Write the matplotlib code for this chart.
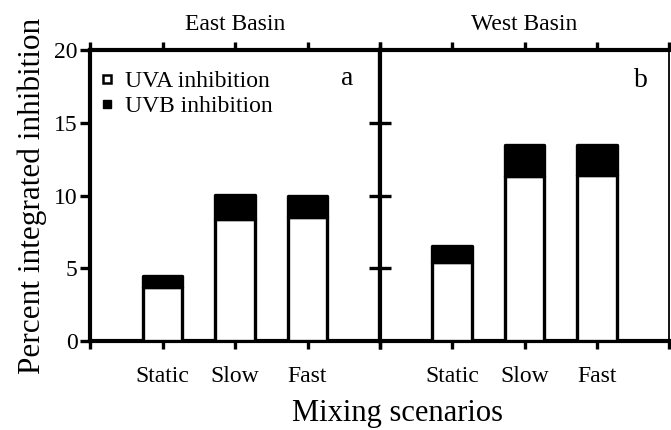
import matplotlib
matplotlib.use("Agg")
from matplotlib import pyplot as plt
from matplotlib.lines import Line2D

plt.rcParams["font.family"] = ["Liberation Serif", "DejaVu Serif"]

scenarios = ["Static", "Slow", "Fast"]
east_uva = [3.7, 8.4, 8.5]
east_uvb = [0.8, 1.6, 1.5]
west_uva = [5.45, 11.35, 11.4]
west_uvb = [1.05, 2.15, 2.1]

fig = plt.figure(figsize=(6.71, 4.30), dpi=100)
ax1 = fig.add_axes([90/671, 1-341/430, 290/671, 291/430])
ax2 = fig.add_axes([380/671, 1-341/430, 289/671, 291/430])

pos = [1, 2, 3]
for ax, uva, uvb in [(ax1, east_uva, east_uvb), (ax2, west_uva, west_uvb)]:
    ax.bar(pos, uva, width=0.55, color="white", edgecolor="black", linewidth=2.4,
           joinstyle="round", zorder=3)
    ax.bar(pos, uvb, bottom=uva, width=0.55, color="black", edgecolor="black",
           linewidth=2.4, joinstyle="round", zorder=3)
    ax.set_xlim(0, 4)
    ax.set_ylim(0, 20)
    ax.set_xticks([0, 1, 2, 3, 4])
    ax.set_xticklabels([""] + scenarios + [""], fontsize=17)
    ax.tick_params(axis="x", which="both", top=True, bottom=True, direction="out",
                   length=6, width=2.4, pad=12)
    for s in ["left", "top", "bottom"]:
        ax.spines[s].set_linewidth(3)

ax1.spines["right"].set_linewidth(3)
ax2.spines["right"].set_linewidth(1.3)

ax1.set_yticks([0, 5, 10, 15, 20])
ax1.tick_params(axis="y", direction="out", length=7, width=2.4, labelsize=17, pad=2)

ax2.set_yticks([5, 10, 15])
ax2.set_yticklabels([])
ax2.tick_params(axis="y", direction="inout", length=16, width=2.4)

ax1.set_ylabel("Percent integrated inhibition", fontsize=22.5, labelpad=5)
fig.text(397/671, 1-414/430, "Mixing scenarios", fontsize=22, ha="center", va="center")

ax1.text(0.5, 1.069, "East Basin", transform=ax1.transAxes, fontsize=17,
         ha="center", va="baseline")
ax2.text(0.5, 1.069, "West Basin", transform=ax2.transAxes, fontsize=17,
         ha="center", va="baseline")
ax1.text(0.886, 0.88, "a", transform=ax1.transAxes, fontsize=20, ha="center", va="baseline")
ax2.text(0.903, 0.873, "b", transform=ax2.transAxes, fontsize=20, ha="center", va="baseline")

handles = [
    Line2D([], [], marker="s", linestyle="None", markersize=5.5, markerfacecolor="white",
           markeredgecolor="black", markeredgewidth=1.8),
    Line2D([], [], marker="s", linestyle="None", markersize=5.5, markerfacecolor="black",
           markeredgecolor="black"),
]
ax1.legend(handles, ["UVA inhibition", "UVB inhibition"], loc="upper left",
           bbox_to_anchor=(0, 0.962), frameon=False,
           fontsize=17, handlelength=0.6, handletextpad=0.5, labelspacing=0.15,
           borderaxespad=0.1, borderpad=0.3)

fig.savefig("out.png", dpi=100)
